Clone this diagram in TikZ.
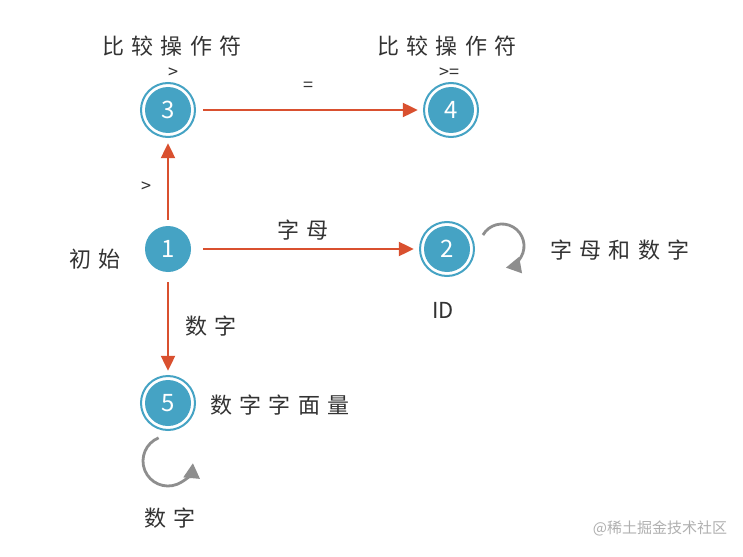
\documentclass[tikz,border=0pt]{standalone}
\usepackage{fontspec}
\setmainfont{Noto Sans CJK SC}
\newfontfamily\cjk[LetterSpace=34]{Noto Sans CJK SC}
\usetikzlibrary{arrows.meta}
\definecolor{nodeblue}{HTML}{45A3C4}
\definecolor{edgered}{HTML}{D9502F}
\definecolor{loopgray}{HTML}{8E8E8E}
\definecolor{textdark}{HTML}{333333}
\definecolor{markgray}{HTML}{B0B0B0}
\begin{document}
\begin{tikzpicture}[x=1pt,y=-1pt,
  state/.style={circle,fill=nodeblue,minimum size=46pt,inner sep=0pt,text=white,font=\fontsize{24}{24}\selectfont},
  ring/.style={draw=nodeblue,line width=2pt},
  edge/.style={draw=edgered,line width=2.2pt,-{Triangle[length=15pt,width=14pt]}},
  loopedge/.style={draw=loopgray,line width=2.8pt,-{Triangle[length=15pt,width=16pt]}},
  lab/.style={text=textdark,font=\cjk\fontsize{22}{24}\selectfont},
  sym/.style={text=textdark,font=\fontsize{18}{20}\selectfont}
]
\useasboundingbox (0,0) rectangle (743,556);
\fill[white] (0,0) rectangle (743,556);

\node[state] (n3) at (168,110) {3};
\node[state] (n4) at (451,110) {4};
\node[state] (n1) at (168,249) {1};
\node[state] (n2) at (447,249) {2};
\node[state] (n5) at (168,403) {5};
\foreach \n in {n3,n4,n2,n5} \draw[ring] (\n.center) circle[radius=27];

\draw[edge] ([xshift=12pt]n3.east) -- ([xshift=-10pt]n4.west);
\draw[edge] ([yshift=6pt]n1.north) -- ([yshift=-10pt]n3.south);
\draw[edge] ([xshift=12pt]n1.east) -- ([xshift=-10pt]n2.west);
\draw[edge] ([yshift=-10pt]n1.south) -- ([yshift=9pt]n5.north);

\coordinate (l2c) at (502,246);
\draw[loopedge] (l2c) ++(-150:22) arc[start angle=-150,end angle=80,radius=22];
\coordinate (l5c) at (168,461);
\draw[loopedge] (l5c) ++(-112:25) arc[start angle=-112,end angle=-355,radius=25];

\node[lab] (t3) at (172,46) {比较操作符};
\node[sym] (g3) at (173,73) {>};
\node[lab] (t4) at (447,46) {比较操作符};
\node[sym] (g4) at (449,73) {>=};
\node[sym] (eq) at (308,87) {=};
\node[sym] (gt) at (146,187) {>};
\node[lab] (zm) at (303,230) {字母};
\node[lab] (sz) at (211,326) {数字};
\node[lab] (init) at (95,259) {初始};
\node[lab] (zmsz) at (620,250) {字母和数字};
\node[sym,font=\fontsize{22}{24}\selectfont] (id) at (443,310) {ID};
\node[lab] (szzml) at (280,405) {数字字面量};
\node[lab] (sz2) at (170,518) {数字};
\node[text=markgray,font=\fontsize{15}{16}\selectfont] (wm) at (660,528) {@稀土掘金技术社区};
\end{tikzpicture}
\end{document}
